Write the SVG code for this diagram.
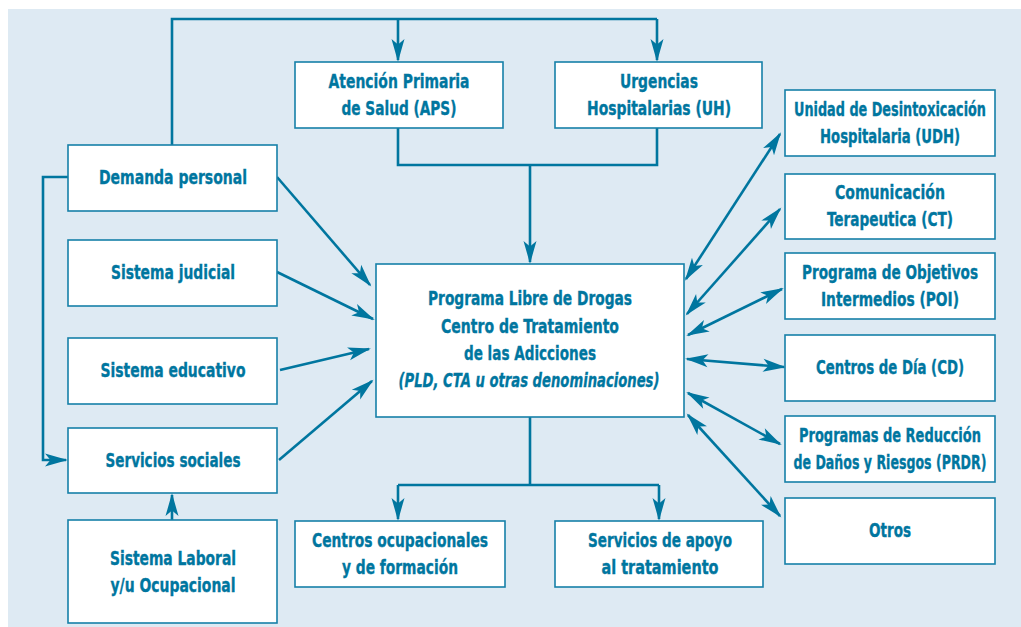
<svg xmlns="http://www.w3.org/2000/svg" width="1021" height="627" viewBox="0 0 1021 627">
  <style>
    .box { fill: #ffffff; stroke: #1680a8; stroke-width: 1.6; }
    .lbl { font-family: "Liberation Sans Narrow", "DejaVu Sans Condensed", "DejaVu Sans", sans-serif; font-weight: bold; font-size: 19.5px; fill: #00769f; stroke: #00769f; stroke-width: 0.35; text-anchor: middle; }
    .it { font-style: italic; }
    .wire { fill: none; stroke: #00769f; stroke-width: 2.6; }
    .end { marker-end: url(#head); }
    .both { marker-start: url(#head); marker-end: url(#head); }
  </style>
  <defs>
    <marker id="head" viewBox="-24 -7 26 14" refX="-2" refY="0" markerWidth="26" markerHeight="14" markerUnits="userSpaceOnUse" orient="auto-start-reverse">
      <path d="M0,0 Q-11,-3 -23,-6.5 L-17.5,0 L-23,6.5 Q-11,3 0,0 Z" fill="#00769f"/>
    </marker>
  </defs>

  <rect x="8" y="9" width="1013" height="618" fill="#deeaf3"/>

  <g id="connectors">
    <!-- Demanda personal to APS and UH over the top -->
    <polyline class="wire" points="172,145 172,19 657,19"/>
    <line class="wire end" x1="398" y1="19" x2="398" y2="60"/>
    <line class="wire end" x1="657" y1="19" x2="657" y2="60"/>
    <!-- APS and UH down into the centre -->
    <polyline class="wire" points="398,128 398,165 657,165 657,128"/>
    <line class="wire end" x1="530" y1="165" x2="530" y2="262"/>
    <!-- Demanda personal loop to Servicios sociales -->
    <polyline class="wire end" points="68,177 43,177 43,460 66,460"/>
    <!-- Sistema Laboral up to Servicios sociales -->
    <line class="wire end" x1="172" y1="520" x2="172" y2="495"/>
    <!-- left sources into the centre -->
    <line class="wire end" x1="277" y1="177" x2="370" y2="285"/>
    <line class="wire end" x1="277" y1="272" x2="373" y2="319"/>
    <line class="wire end" x1="280" y1="370" x2="369" y2="349"/>
    <line class="wire end" x1="279" y1="460" x2="372" y2="381"/>
    <!-- centre down to the two lower boxes -->
    <line class="wire" x1="530" y1="417" x2="530" y2="485"/>
    <line class="wire" x1="398" y1="485" x2="659" y2="485"/>
    <line class="wire end" x1="398" y1="485" x2="398" y2="519"/>
    <line class="wire end" x1="659" y1="485" x2="659" y2="519"/>
    <!-- two-way links with the right column -->
    <line class="wire both" x1="686" y1="279" x2="780" y2="134"/>
    <line class="wire both" x1="687" y1="314" x2="780" y2="209"/>
    <line class="wire both" x1="688" y1="335" x2="782" y2="289"/>
    <line class="wire both" x1="687" y1="359" x2="784" y2="367"/>
    <line class="wire both" x1="688" y1="393" x2="780" y2="444"/>
    <line class="wire both" x1="688" y1="415" x2="780" y2="516"/>
  </g>

  <g id="aps">
    <rect class="box" x="295" y="62" width="208" height="66"/>
    <text class="lbl" x="399" y="88" textLength="141" lengthAdjust="spacingAndGlyphs">Atención Primaria</text>
    <text class="lbl" x="399" y="115" textLength="115" lengthAdjust="spacingAndGlyphs">de Salud (APS)</text>
  </g>
  <g id="uh">
    <rect class="box" x="555" y="62" width="207" height="66"/>
    <text class="lbl" x="659" y="88" textLength="78" lengthAdjust="spacingAndGlyphs">Urgencias</text>
    <text class="lbl" x="659" y="115" textLength="144" lengthAdjust="spacingAndGlyphs">Hospitalarias (UH)</text>
  </g>
  <g id="demanda">
    <rect class="box" x="68" y="145" width="209" height="66"/>
    <text class="lbl" x="173" y="184" textLength="148" lengthAdjust="spacingAndGlyphs">Demanda personal</text>
  </g>
  <g id="judicial">
    <rect class="box" x="68" y="240" width="209" height="66"/>
    <text class="lbl" x="173" y="279" textLength="124" lengthAdjust="spacingAndGlyphs">Sistema judicial</text>
  </g>
  <g id="educativo">
    <rect class="box" x="68" y="338" width="209" height="66"/>
    <text class="lbl" x="173" y="377" textLength="145" lengthAdjust="spacingAndGlyphs">Sistema educativo</text>
  </g>
  <g id="sociales">
    <rect class="box" x="68" y="428" width="209" height="65"/>
    <text class="lbl" x="173" y="467" textLength="135" lengthAdjust="spacingAndGlyphs">Servicios sociales</text>
  </g>
  <g id="laboral">
    <rect class="box" x="68" y="520" width="209" height="103"/>
    <text class="lbl" x="173" y="565" textLength="126" lengthAdjust="spacingAndGlyphs">Sistema Laboral</text>
    <text class="lbl" x="173" y="592" textLength="125" lengthAdjust="spacingAndGlyphs">y/u Ocupacional</text>
  </g>
  <g id="centro">
    <rect class="box" x="376" y="264" width="308" height="153"/>
    <text class="lbl" x="530" y="305" textLength="204" lengthAdjust="spacingAndGlyphs">Programa Libre de Drogas</text>
    <text class="lbl" x="530" y="333" textLength="178" lengthAdjust="spacingAndGlyphs">Centro de Tratamiento</text>
    <text class="lbl" x="530" y="360" textLength="132" lengthAdjust="spacingAndGlyphs">de las Adicciones</text>
    <text class="lbl it" x="529" y="387" textLength="261" lengthAdjust="spacingAndGlyphs">(PLD, CTA u otras denominaciones)</text>
  </g>
  <g id="ocupacionales">
    <rect class="box" x="295" y="521" width="210" height="66"/>
    <text class="lbl" x="400" y="547" textLength="176" lengthAdjust="spacingAndGlyphs">Centros ocupacionales</text>
    <text class="lbl" x="400" y="574" textLength="116" lengthAdjust="spacingAndGlyphs">y de formación</text>
  </g>
  <g id="apoyo">
    <rect class="box" x="555" y="521" width="208" height="66"/>
    <text class="lbl" x="660" y="547" textLength="144" lengthAdjust="spacingAndGlyphs">Servicios de apoyo</text>
    <text class="lbl" x="660" y="574" textLength="117" lengthAdjust="spacingAndGlyphs">al tratamiento</text>
  </g>
  <g id="udh">
    <rect class="box" x="785" y="90" width="210" height="66"/>
    <text class="lbl" x="890" y="116" textLength="192" lengthAdjust="spacingAndGlyphs">Unidad de Desintoxicación</text>
    <text class="lbl" x="890" y="143" textLength="140" lengthAdjust="spacingAndGlyphs">Hospitalaria (UDH)</text>
  </g>
  <g id="ct">
    <rect class="box" x="785" y="174" width="210" height="65"/>
    <text class="lbl" x="890" y="199" textLength="110" lengthAdjust="spacingAndGlyphs">Comunicación</text>
    <text class="lbl" x="890" y="226" textLength="126" lengthAdjust="spacingAndGlyphs">Terapeutica (CT)</text>
  </g>
  <g id="poi">
    <rect class="box" x="785" y="253" width="210" height="66"/>
    <text class="lbl" x="890" y="279" textLength="176" lengthAdjust="spacingAndGlyphs">Programa de Objetivos</text>
    <text class="lbl" x="890" y="306" textLength="138" lengthAdjust="spacingAndGlyphs">Intermedios (POI)</text>
  </g>
  <g id="cd">
    <rect class="box" x="785" y="335" width="210" height="66"/>
    <text class="lbl" x="890" y="374" textLength="148" lengthAdjust="spacingAndGlyphs">Centros de Día (CD)</text>
  </g>
  <g id="prdr">
    <rect class="box" x="785" y="416" width="210" height="66"/>
    <text class="lbl" x="890" y="442" textLength="182" lengthAdjust="spacingAndGlyphs">Programas de Reducción</text>
    <text class="lbl" x="890" y="469" textLength="193" lengthAdjust="spacingAndGlyphs">de Daños y Riesgos (PRDR)</text>
  </g>
  <g id="otros">
    <rect class="box" x="785" y="498" width="210" height="66"/>
    <text class="lbl" x="890" y="537" textLength="42" lengthAdjust="spacingAndGlyphs">Otros</text>
  </g>
</svg>
